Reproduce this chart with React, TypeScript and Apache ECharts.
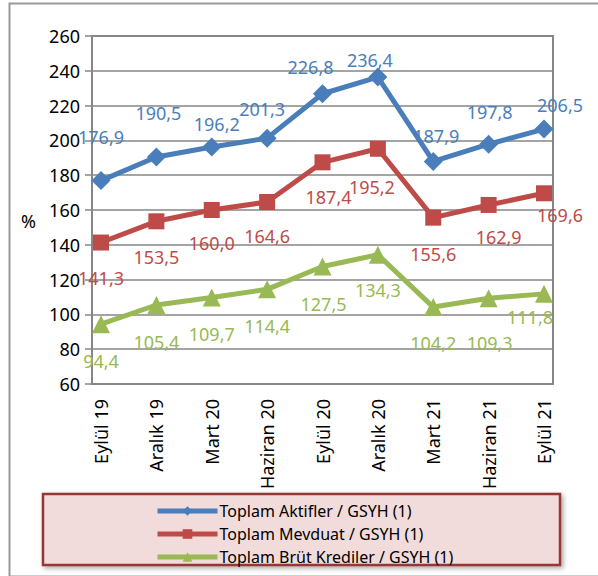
import React, { useEffect, useRef } from "react";
import * as echarts from "echarts";

const categories = ["Eylül 19", "Aralık 19", "Mart 20", "Haziran 20", "Eylül 20", "Aralık 20", "Mart 21", "Haziran 21", "Eylül 21"];
const aktifler = [176.9, 190.5, 196.2, 201.3, 226.8, 236.4, 187.9, 197.8, 206.5];
const mevduat = [141.3, 153.5, 160.0, 164.6, 187.4, 195.2, 155.6, 162.9, 169.6];
const krediler = [94.4, 105.4, 109.7, 114.4, 127.5, 134.3, 104.2, 109.3, 111.8];
const seriesNames = ["Toplam Aktifler / GSYH (1)", "Toplam Mevduat / GSYH (1)", "Toplam Brüt Krediler / GSYH (1)"];

// label placement (offsets from the point, in px)
const aktiflerLabelOffsets = [[0, -44], [2, -44], [5, -23], [-5, -29], [-12, -27], [-8, -17], [3, -25], [1, -32], [16, -24]];
const mevduatLabelOffsets = [[0, 35], [0, 36], [0, 33], [0, 34], [6, 35], [-6, 38], [0, 36], [10, 32], [16, 22]];
const kredilerLabelOffsets = [[0, 37], [0, 37], [0, 36], [0, 37], [1, 37], [0, 35], [0, 36], [1, 45], [-14, 23]];

const FONT = "Noto Sans";
const BLUE = "#4A7EBB";
const RED = "#BE4B48";
const GREEN = "#98B954";

const fmt = (p: any) => Number(p.value).toFixed(1).replace(".", ",");

function makeSeries(name: string, values: number[], offsets: number[][], color: string, symbol: string, symbolSize: number) {
  return {
    name,
    type: "line",
    xAxisIndex: 1,
    yAxisIndex: 1,
    data: values.map((v, i) => ({ value: v, label: { offset: offsets[i] } })),
    symbol,
    symbolSize,
    lineStyle: { color, width: 5 },
    itemStyle: { color },
    label: {
      show: true,
      position: "inside",
      formatter: fmt,
      color,
      fontFamily: FONT,
      fontSize: 18,
    },
    z: 3,
  };
}

export default function App() {
  const ref = useRef<HTMLDivElement>(null);
  useEffect(() => {
    if (!ref.current) return;
    const chart = echarts.init(ref.current, undefined, { renderer: "svg" });
    chart.setOption({
      animation: false,
      backgroundColor: "#ffffff",
      textStyle: { fontFamily: FONT },
      grid: [
        { left: 92, right: 45, top: 36, bottom: 192, show: true, borderColor: "#868686", borderWidth: 2, backgroundColor: "transparent" },
        { left: 101, right: 54, top: 36, bottom: 192 },
      ],
      xAxis: [
        { type: "value", gridIndex: 0, show: false, min: 0, max: 1 },
        {
          type: "category",
          gridIndex: 1,
          data: categories,
          boundaryGap: false,
          axisLine: { show: false },
          axisTick: { show: false },
          splitLine: { show: false },
          axisLabel: { rotate: 90, margin: 15, color: "#000", fontFamily: FONT, fontSize: 18 },
        },
      ],
      yAxis: [
        {
          type: "value",
          gridIndex: 0,
          min: 60,
          max: 260,
          interval: 20,
          axisLine: { show: false },
          axisTick: { show: true, length: 7, lineStyle: { color: "#868686", width: 1.5 } },
          splitLine: { show: true, lineStyle: { color: "#868686", width: 1.5 } },
          axisLabel: { margin: 12, color: "#000", fontFamily: FONT, fontSize: 18 },
        },
        { type: "value", gridIndex: 1, min: 60, max: 260, interval: 20, show: false, splitLine: { show: false } },
      ],
      legend: {
        orient: "vertical",
        left: 150,
        top: 498,
        itemWidth: 60,
        itemHeight: 12,
        itemGap: 7,
        data: seriesNames,
        lineStyle: { width: 5 },
        textStyle: { fontFamily: FONT, fontSize: 16, color: "#000", padding: [0, 0, 0, -3] },
      },
      graphic: [
        {
          type: "rect",
          left: 7,
          top: 1,
          shape: { width: 620, height: 573 },
          style: { fill: "none", stroke: "#9a9a9a", lineWidth: 2 },
          z: -10,
        },
        {
          type: "rect",
          x: 43,
          y: 494,
          shape: { width: 517, height: 71 },
          style: { fill: "#F2DCDB", stroke: "#953735", lineWidth: 2.5, shadowBlur: 5, shadowOffsetX: 2, shadowOffsetY: 2, shadowColor: "rgba(0,0,0,0.35)" },
          z: -5,
        },
        {
          type: "text",
          x: 21,
          y: 212,
          style: { text: "%", fontFamily: FONT, fontSize: 18, fill: "#000" },
        },
      ],
      series: [
        makeSeries(seriesNames[0], aktifler, aktiflerLabelOffsets, BLUE, "diamond", 19),
        makeSeries(seriesNames[1], mevduat, mevduatLabelOffsets, RED, "rect", 16),
        makeSeries(seriesNames[2], krediler, kredilerLabelOffsets, GREEN, "triangle", 18),
      ],
    });
    return () => chart.dispose();
  }, []);
  return <div ref={ref} style={{ position: "absolute", left: 0, top: 0, width: 598, height: 576 }} />;
}
